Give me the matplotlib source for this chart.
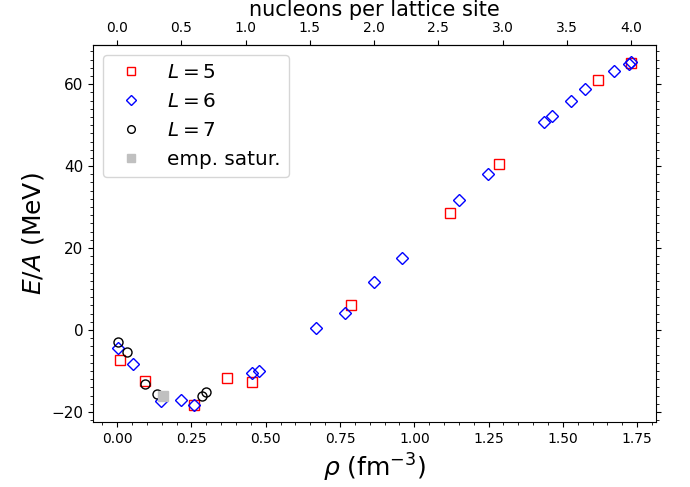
import matplotlib
matplotlib.use("Agg")
import matplotlib.pyplot as plt
from matplotlib.ticker import MultipleLocator

# lattice spacing (fm) -> converts density to nucleons per lattice site
a_lat = 1.3225

# --- L = 5 ---
rho_L5 = [0.010, 0.094, 0.260, 0.371, 0.453, 0.787, 1.119, 1.285, 1.617, 1.729]
ea_L5 = [-7.2, -12.5, -18.4, -11.6, -12.8, 6.1, 28.6, 40.4, 61.1, 65.1]

# --- L = 6 ---
rho_L6 = [0.002, 0.053, 0.147, 0.214, 0.260, 0.455, 0.478, 0.670, 0.767, 0.863,
          0.959, 1.151, 1.248, 1.437, 1.463, 1.527, 1.576, 1.672, 1.721, 1.729]
ea_L6 = [-4.5, -8.2, -17.4, -17.1, -18.3, -10.5, -10.0, 0.4, 4.2, 11.7,
         17.6, 31.7, 38.1, 50.7, 52.3, 55.8, 58.7, 63.2, 65.0, 65.3]

# --- L = 7 ---
rho_L7 = [0.002, 0.033, 0.092, 0.134, 0.285, 0.300]
ea_L7 = [-3.0, -5.3, -13.2, -15.5, -16.2, -15.1]

# empirical saturation point
rho_sat = [0.155]
ea_sat = [-16.2]

fig, ax = plt.subplots(figsize=(6.9, 4.87), dpi=100)
fig.subplots_adjust(left=0.135, right=0.951, bottom=0.133, top=0.908)

ax.plot(rho_L5, ea_L5, "s", color="red", mfc="none", ms=6.5, label=r"$L=5$")
ax.plot(rho_L6, ea_L6, "D", color="blue", mfc="none", ms=6.5, label=r"$L=6$")
ax.plot(rho_L7, ea_L7, "o", color="black", mfc="none", ms=6.5, label=r"$L=7$")
ax.plot(rho_sat, ea_sat, "s", color="silver", ms=6.5, label="emp. satur.")

ax.set_xlim(-0.081, 1.814)
ax.set_ylim(-22.5, 69.6)

ax.set_xlabel(r"$\rho$ (fm$^{-3}$)", fontsize=18)
ax.set_ylabel(r"$E/A$ (MeV)", fontsize=18)
ax.xaxis.set_minor_locator(MultipleLocator(0.05))
ax.yaxis.set_minor_locator(MultipleLocator(2))
ax.yaxis.set_ticks_position("both")
ax.tick_params(axis="y", labelsize=11)
ax.tick_params(axis="x", labelsize=10)

# top axis: nucleons per lattice site
sec = ax.secondary_xaxis("top", functions=(lambda r: r * a_lat**3,
                                           lambda n: n / a_lat**3))
sec.set_xlabel("nucleons per lattice site", fontsize=15)
sec.set_xticks([0.0, 0.5, 1.0, 1.5, 2.0, 2.5, 3.0, 3.5, 4.0])

ax.legend(loc="upper left", fontsize="x-large", markerscale=0.85)

plt.savefig("out.png")
